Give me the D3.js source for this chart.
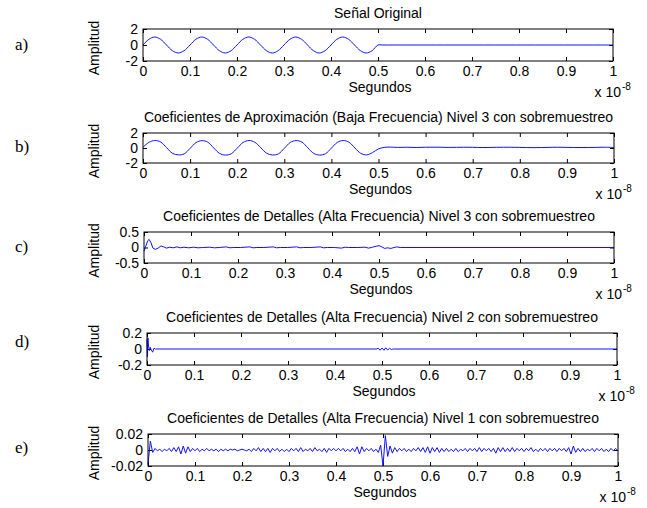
<!DOCTYPE html>
<html>
<head>
<meta charset="utf-8">
<script src="https://cdnjs.cloudflare.com/ajax/libs/d3/7.8.5/d3.min.js"></script>
<style>
body { margin: 0; background: #fff; }
</style>
</head>
<body>
<div id="charts"></div>
<script>
// ---- data (time in units of 1e-8 s) ----
const xTicks = [0, 0.1, 0.2, 0.3, 0.4, 0.5, 0.6, 0.7, 0.8, 0.9, 1];
const xTickLabels = ["0", "0.1", "0.2", "0.3", "0.4", "0.5", "0.6", "0.7", "0.8", "0.9", "1"];

const titles = [
    "Señal Original",
    "Coeficientes de Aproximación (Baja Frecuencia) Nivel 3 con sobremuestreo",
    "Coeficientes de Detalles (Alta Frecuencia) Nivel 3 con sobremuestreo",
    "Coeficientes de Detalles (Alta Frecuencia) Nivel 2 con sobremuestreo",
    "Coeficientes de Detalles (Alta Frecuencia) Nivel 1 con sobremuestreo"
];
const rowLabels = ["a)", "b)", "c)", "d)", "e)"];

const yTicksA = [-2, 0, 2], yLabelsA = ["-2", "0", "2"];
const yTicksB = [-2, 0, 2], yLabelsB = ["-2", "0", "2"];
const yTicksC = [-0.5, 0, 0.5], yLabelsC = ["-0.5", "0", "0.5"];
const yTicksD = [-0.2, 0, 0.2], yLabelsD = ["-0.2", "0", "0.2"];
const yTicksE = [-20, 0, 20], yLabelsE = ["-0.02", "0", "0.02"];   // e) values in 1e-3

// a) original signal [t, amplitude]
const origSignal = [
    [0, 0], [.0125, .71], [.025, 1], [.0375, .71], [.05, 0], [.0625, -.71], [.075, -1], [.0875, -.71],
    [.1, 0], [.1125, .71], [.125, 1], [.1375, .71], [.15, 0], [.1625, -.71], [.175, -1], [.1875, -.71],
    [.2, 0], [.2125, .71], [.225, 1], [.2375, .71], [.25, 0], [.2625, -.71], [.275, -1], [.2875, -.71],
    [.3, 0], [.3125, .71], [.325, 1], [.3375, .71], [.35, 0], [.3625, -.71], [.375, -1], [.3875, -.71],
    [.4, 0], [.4125, .71], [.425, 1], [.4375, .71], [.45, 0], [.4625, -.71], [.475, -1], [.4875, -.71],
    [.5, 0], [.51, 0], [1, 0]
];

// b) approximation level 3
const approx3 = [
    [0, .1], [.0125, .75], [.025, 1], [.0375, .8], [.05, .05], [.0625, -.7], [.075, -.92], [.0875, -.78],
    [.1, -.05], [.1125, .72], [.125, .98], [.1375, .78], [.15, .02], [.1625, -.72], [.175, -.94], [.1875, -.76],
    [.2, -.02], [.2125, .74], [.225, 1], [.2375, .76], [.25, .04], [.2625, -.7], [.275, -.93], [.2875, -.78],
    [.3, -.04], [.3125, .73], [.325, .99], [.3375, .78], [.35, .02], [.3625, -.72], [.375, -.94], [.3875, -.76],
    [.4, -.02], [.4125, .75], [.425, 1], [.4375, .76], [.45, 0], [.4625, -.72], [.475, -.92], [.4875, -.6],
    [.5, -.12], [.512, .08], [.525, .12], [.54, .08], [.56, .1], [.58, .07], [.6, .1], [.62, .11],
    [.65, .08], [.68, .1], [.7, .09], [.72, .06], [.75, .09], [.78, .1], [.8, .08], [.83, .05],
    [.86, .08], [.88, .1], [.9, .08], [.93, .06], [.96, .08], [.98, .1], [1, .07]
];

// c) detail level 3
const detail3 = [
    [0, -.12], [.004, .05], [.008, .22], [.011, .26], [.015, .15], [.019, -.02], [.024, -.06], [.03, -.02],
    [.036, .05], [.042, .02], [.048, -.02], [.055, .01], [.062, -.01], [.07, .02], [.077, -.01], [.085, .01],
    [.095, -.01], [.105, .01], [.115, -.01], [.125, 0], [.14, .01], [.15, -.01], [.16, 0], [.175, .02],
    [.183, -.01], [.19, 0], [.205, 0], [.225, .02], [.232, -.01], [.24, 0], [.255, 0], [.275, .02],
    [.282, -.01], [.29, 0], [.305, 0], [.325, .02], [.332, -.01], [.34, 0], [.355, 0], [.375, .02],
    [.382, -.01], [.39, 0], [.405, 0], [.42, -.02], [.428, .01], [.435, 0], [.455, 0], [.47, .01],
    [.478, -.02], [.486, .01], [.494, .04], [.5, .06], [.506, .02], [.512, -.03], [.518, -.01], [.525, -.03],
    [.532, 0], [.538, .02], [.545, 0], [1, 0]
];

// d) detail level 2
const detail2 = [
    [0, .12], [.001, -.1], [.002, .14], [.003, .05], [.005, -.02], [.007, .02], [.009, -.01], [.012, -.04],
    [.015, .01], [.018, 0], [.488, 0], [.492, .01], [.496, -.015], [.5, .012], [.504, -.016], [.508, .015],
    [.512, -.012], [.516, .008], [.52, -.006], [.524, 0], [1, 0]
];

// e) detail level 1, sampled every 0.005, values in 1e-3
const detail1Step = 0.005;
const detail1Milli = [
    -18, 11, -3, 2, -1, 1, -2, 1, -1, 2,
    -2, 3, -2, 4, -5, 5, -4, 4, -2, 2,
    -1, 2, -2, 1, -1, 2, -1, 1, -1, 1,
    -2, 1, -1, 1, -1, 1, 0, 1, -1, 0,
    1, 0, -1, 1, -2, 2, -1, 3, -2, 2,
    -2, 2, -3, 2, -1, 2, -2, 1, -2, 1,
    -2, 2, -1, 2, -2, 3, -2, 1, -1, 2,
    -2, 3, -1, 1, -2, 2, -3, 2, -1, 2,
    -1, 2, -1, 2, -2, 1, -2, 2, -2, 4,
    -5, 4, -2, 2, -1, 2, -2, 1, -3, 6,
    -20, 18, -8, 5, -4, 3, -2, 2, -1, 2,
    -2, 1, -2, 2, -1, 3, -2, 3, -3, 4,
    -4, 3, -2, 3, -3, 2, -2, 2, -2, 1,
    -2, 2, -2, 1, -1, 2, -2, 2, -1, 2,
    -2, 3, -2, 2, -1, 2, -2, 2, -4, 3,
    -2, 3, -2, 2, -2, 3, -2, 2, -1, 2,
    -2, 2, -1, 3, -2, 1, -2, 2, -1, 2,
    -2, 2, -1, 2, -2, 2, -1, 2, -2, 3,
    -5, 5, -3, 2, -2, 2, -2, 1, -1, 2,
    -2, 2, -1, 2, -2, 1, -2, 2, -1, 2,
    -1
];

// ---- layout ----
const W = 647, H = 508;
let svg = d3.select('#charts')
    .append("svg")
    .attr("width", W)
    .attr("height", H)
    .attr("viewBox", [0, 0, W, H]);

const FONT = "'Liberation Sans', Arial, sans-serif";
const FS = 14;
const LINE = "#1010ff";

let panels = [
    {box: [143, 29, 613, 61], yDomain: [-2, 2], yTicks: yTicksA, yLabels: yLabelsA,
     data: origSignal, curve: d3.curveCatmullRom, labelY: 50},
    {box: [143, 133, 614, 163], yDomain: [-2, 2], yTicks: yTicksB, yLabels: yLabelsB,
     data: approx3, curve: d3.curveCatmullRom, labelY: 152},
    {box: [144, 232, 614, 263], yDomain: [-0.5, 0.5], yTicks: yTicksC, yLabels: yLabelsC,
     data: detail3, curve: d3.curveLinear, labelY: 252},
    {box: [147, 333, 617, 365], yDomain: [-0.2, 0.2], yTicks: yTicksD, yLabels: yLabelsD,
     data: detail2, curve: d3.curveLinear, labelY: 347},
    {box: [148, 434, 618, 466], yDomain: [-20, 20], yTicks: yTicksE, yLabels: yLabelsE,
     data: detail1Milli.map((v, i) => [i * detail1Step, v]), curve: d3.curveLinear, labelY: 453}
];

panels.forEach((p, i) => drawPanel(p, i));

function styleAxis(g, labels) {
    g.select(".domain").remove();
    g.selectAll(".tick line").attr("stroke", "#000");
    g.attr("font-family", FONT).attr("font-size", FS);
    g.selectAll(".tick text").attr("fill", "#000");
    if (!labels) g.selectAll(".tick text").remove();
}

function drawPanel(p, i) {
    let [x0, y0, x1, y1] = p.box;
    let x = d3.scaleLinear([0, 1], [x0, x1]);
    let y = d3.scaleLinear(p.yDomain, [y1, y0]);
    let g = svg.append("g");

    // axes with inward ticks (MATLAB style)
    g.append("g").attr("transform", `translate(0,${y1})`)
        .call(d3.axisBottom(x).tickValues(xTicks).tickFormat((d, k) => xTickLabels[k]).tickSize(-4).tickPadding(5))
        .call(a => styleAxis(a, true));
    g.append("g").attr("transform", `translate(0,${y0})`)
        .call(d3.axisTop(x).tickValues(xTicks).tickSize(-4))
        .call(a => styleAxis(a, false));
    g.append("g").attr("transform", `translate(${x0},0)`)
        .call(d3.axisLeft(y).tickValues(p.yTicks).tickFormat((d, k) => p.yLabels[k]).tickSize(-4).tickPadding(5))
        .call(a => styleAxis(a, true));
    g.append("g").attr("transform", `translate(${x1},0)`)
        .call(d3.axisRight(y).tickValues(p.yTicks).tickSize(-4))
        .call(a => styleAxis(a, false));

    // signal
    g.append("path")
        .datum(p.data)
        .attr("fill", "none")
        .attr("stroke", LINE)
        .attr("stroke-width", 1)
        .attr("d", d3.line().x(d => x(d[0])).y(d => y(d[1])).curve(p.curve));

    // box
    g.append("rect")
        .attr("x", x0).attr("y", y0)
        .attr("width", x1 - x0).attr("height", y1 - y0)
        .attr("fill", "none").attr("stroke", "#000").attr("stroke-width", 1);

    let mid = (x0 + x1) / 2;
    g.append("text")
        .attr("x", mid).attr("y", y0 - 11.5)
        .attr("text-anchor", "middle")
        .attr("font-family", FONT).attr("font-size", FS)
        .text(titles[i]);

    g.append("text")
        .attr("x", mid + 2).attr("y", y1 + 31)
        .attr("text-anchor", "middle")
        .attr("font-family", FONT).attr("font-size", FS)
        .text("Segundos");

    g.append("text")
        .attr("x", x1 + 8).attr("y", y1 + 36)
        .attr("text-anchor", "end")
        .attr("font-family", FONT).attr("font-size", FS)
        .text("x 10");
    g.append("text")
        .attr("x", x1 + 9).attr("y", y1 + 29)
        .attr("font-family", FONT).attr("font-size", 10)
        .text("-8");

    g.append("text")
        .attr("transform", `translate(99,${(y0 + y1) / 2 + 3}) rotate(-90)`)
        .attr("text-anchor", "middle")
        .attr("font-family", FONT).attr("font-size", FS)
        .text("Amplitud");

    g.append("text")
        .attr("x", 15).attr("y", p.labelY)
        .attr("font-family", "'Liberation Serif', 'Times New Roman', serif")
        .attr("font-size", 17)
        .text(rowLabels[i]);
}
</script>
</body>
</html>
